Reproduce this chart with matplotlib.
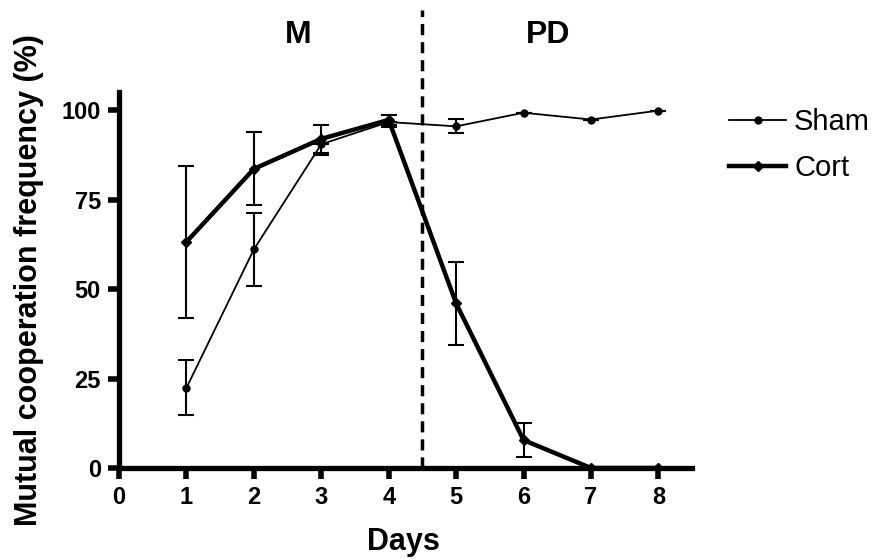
import matplotlib
matplotlib.use("Agg")
import matplotlib.pyplot as plt
from matplotlib.lines import Line2D

days = [1, 2, 3, 4, 5, 6, 7, 8]
sham = [22.4, 61.1, 90.5, 96.7, 95.5, 99.3, 97.4, 99.9]
sham_err_hi = [7.7, 10.2, 0.0, 0.0, 2.0, 0.0, 0.0, 0.0]
sham_err_lo = [7.7, 10.2, 3.0, 1.5, 2.0, 0.0, 0.0, 0.0]
cort = [63.2, 83.6, 92.0, 97.3, 46.0, 7.8, 0.0, 0.0]
cort_err = [21.2, 10.2, 4.0, 1.5, 11.5, 4.8, 0.0, 0.0]
xticks = [0, 1, 2, 3, 4, 5, 6, 7, 8]
yticks = [0, 25, 50, 75, 100]

plt.rcParams['font.family'] = ['Liberation Sans', 'DejaVu Sans']

fig = plt.figure(figsize=(8.79, 5.59), dpi=100)
ax = fig.add_axes([0.1354, 0.1628, 0.652, 0.672])

ax.errorbar(days, sham, yerr=[sham_err_lo, sham_err_hi], color='black', lw=1.3,
            marker='o', ms=5, capsize=6, elinewidth=1.5, capthick=1.5, zorder=3)
ax.errorbar(days, cort, yerr=cort_err, color='black', lw=3.2,
            marker='D', ms=5, capsize=6, elinewidth=1.5, capthick=1.5, zorder=4)

ax.plot([4.5, 4.5], [0, 128], color='black', lw=2.5, ls=(0, (3.2, 2)),
        clip_on=False, zorder=2)

ax.text(2.66, 121, 'M', fontsize=23, fontweight='bold', ha='center', va='center')
ax.text(6.37, 121, 'PD', fontsize=23, fontweight='bold', ha='center', va='center')

ax.set_xlim(0, 8.5)
ax.set_ylim(0, 105)
ax.set_xticks(xticks)
ax.set_yticks(yticks)
for lab in ax.get_xticklabels() + ax.get_yticklabels():
    lab.set_fontweight('bold')
    lab.set_fontsize(17)
ax.tick_params(direction='out', length=8, width=4, pad=5)
for s in ['top', 'right']:
    ax.spines[s].set_visible(False)
for s in ['left', 'bottom']:
    ax.spines[s].set_linewidth(3.8)

ax.set_xlabel('Days', fontsize=22, fontweight='bold')
ax.set_ylabel('Mutual cooperation frequency (%)', fontsize=22, fontweight='bold')
ax.xaxis.set_label_coords(0.497, -0.157)
ax.yaxis.set_label_coords(-0.131, 0.5)

handles = [Line2D([], [], color='black', lw=1.3, marker='o', ms=5),
           Line2D([], [], color='black', lw=3.2, marker='D', ms=5)]
ax.legend(handles, ['Sham', 'Cort'], loc='upper left', bbox_to_anchor=(1.019, 1.027),
          frameon=False, fontsize=21, handlelength=1.95, handletextpad=0.27,
          labelspacing=0.6)

fig.savefig('out.png', dpi=100)
